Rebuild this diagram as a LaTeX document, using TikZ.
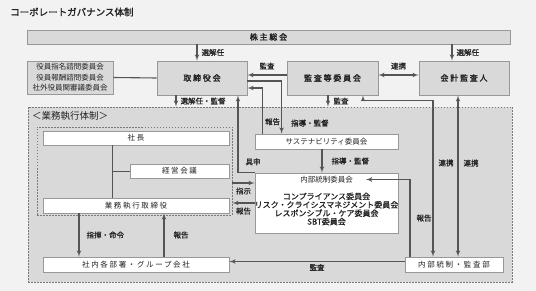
\documentclass[tikz,border=0pt]{standalone}
\usepackage{fontspec}
\usetikzlibrary{arrows}
\newfontfamily\jp[AutoFakeBold=0.7]{Noto Sans CJK JP}
\newfontfamily\jpsp[AutoFakeBold=2,LetterSpace=22]{Noto Sans CJK JP}
\newfontfamily\jphead[AutoFakeBold=1.5]{Noto Sans CJK JP}
\definecolor{paper}{HTML}{F2F2F2}
\definecolor{panel}{HTML}{D9D9D9}
\definecolor{rim}{HTML}{989898}
\definecolor{ink}{HTML}{222222}
\definecolor{linegray}{HTML}{555555}

\begin{document}
\begin{tikzpicture}[x=1pt,y=-1pt,>=latex',
    graybox/.style={draw=rim,fill=panel,line width=0.8pt,inner sep=0pt,text=ink,font=\jpsp\bfseries\fontsize{8}{9}\selectfont},
    whitebox/.style={draw=rim,fill=white,line width=0.8pt,inner sep=0pt,text=ink,font=\jpsp\fontsize{7.5}{9}\selectfont},
    zone/.style={draw=rim!80!black,fill=panel,line width=0.7pt,dash pattern=on 1.5pt off 1.5pt,inner sep=0pt},
    lbl/.style={inner sep=1pt,text=ink,font=\jp\bfseries\fontsize{7.5}{9}\selectfont},
    wire/.style={draw=linegray,line width=1.1pt},
    arr/.style={wire,->},
    dbl/.style={wire,<->}]

    \fill[paper] (0,0) rectangle (536,291);
    \useasboundingbox (0,0) rectangle (536,291);

    \node[lbl,anchor=west,font=\jphead\bfseries\fontsize{9.5}{11}\selectfont] (title) at (9,12) {コーポレートガバナンス体制};

    % executive zone
    \node[zone,minimum width=484pt,minimum height=175pt] (outer) at (270,194.5) {};
    \node[lbl,anchor=west,font=\jp\fontsize{9.5}{11}\selectfont] (zonetitle) at (31,115.5) {＜業務執行体制＞};
    \node[zone,minimum width=195pt,minimum height=88pt] (inner) at (134.5,171) {};

    % top row
    \node[graybox,minimum width=483pt,minimum height=14pt] (kabunushi) at (268.5,37) {株主総会};
    \node[graybox,minimum width=90pt,minimum height=34pt] (torishimari) at (202,78) {取締役会};
    \node[graybox,minimum width=91pt,minimum height=34pt] (kansa) at (332.5,78) {監査等委員会};
    \node[graybox,minimum width=90pt,minimum height=34pt] (kaikei) at (464,78) {会計監査人};
    \node[graybox,font=\jp\fontsize{7.5}{10.5}\selectfont,align=center,minimum width=86pt,minimum height=33pt] (shimon) at (70,77.5) {役員指名諮問委員会\\役員報酬諮問委員会\\社外役員関審議委員会};

    % white boxes
    \node[whitebox,minimum width=186pt,minimum height=14pt] (shacho) at (136,138) {社長};
    \node[whitebox,minimum width=99pt,minimum height=14pt] (keiei) at (179.5,171) {経営会議};
    \node[whitebox,minimum width=186pt,minimum height=15pt] (gyomu) at (136,205.5) {業務執行取締役};
    \node[whitebox,minimum width=186pt,minimum height=15pt] (shanai) at (136,264.5) {社内各部署・グループ会社};
    \node[whitebox,minimum width=98pt,minimum height=15pt] (naikan) at (454,264.5) {内部統制・監査部};
    \node[whitebox,font=\jp\fontsize{7.5}{9}\selectfont,minimum width=143pt,minimum height=15pt] (sustain) at (326.5,141.5) {サステナビリティ委員会};
    \node[whitebox,minimum width=143pt,minimum height=60pt] (naibu) at (326.5,203) {};
    \node[lbl,font=\jp\fontsize{7.5}{9}\selectfont] (naibuhead) at (326.5,179.5) {内部統制委員会};
    \node[lbl,align=center,font=\jp\bfseries\fontsize{8}{8.4}\selectfont] (naibulist) at (326.5,209) {コンプライアンス委員会\\リスク・クライシスマネジメント委員会\\レスポンシブル・ケア委員会\\SBT委員会};

    % connectors
    \draw[wire] (shimon.east) -- (torishimari.west);
    \draw[arr] ([xshift=-5pt]torishimari.north |- kabunushi.south) -- node[lbl,right=3pt] {選解任} ([xshift=-5pt]torishimari.north);
    \draw[arr] ([xshift=-12pt]kaikei.north |- kabunushi.south) -- node[lbl,right=3pt] {選解任} ([xshift=-12pt]kaikei.north);
    \draw[arr] ([yshift=3pt]kansa.west) -- node[lbl,above=4pt] {監査} ([yshift=3pt]torishimari.east);
    \draw[dbl] ([yshift=3pt]kansa.east) -- node[lbl,above=4pt] {連携} ([yshift=3pt]kaikei.west);
    \draw[arr] ([yshift=-3pt]torishimari.east) -| node[lbl,pos=0.9,right=8pt] {指導・監督} ([xshift=27pt]sustain.north west);
    \draw[arr] ([xshift=8pt]sustain.north west) |- node[lbl,pos=0.13,right=1pt] {報告} ([yshift=-10pt]torishimari.east);
    \draw[arr] ([xshift=-26pt]torishimari.south) -- node[lbl,right=3pt] {選解任・監督} ([xshift=-26pt]torishimari.south |- outer.north);
    \draw[arr] (naibu.north west) -| node[lbl,pos=0.57,right=6pt] {具申} ([xshift=36pt]torishimari.south);
    \draw[arr] ([xshift=-4.5pt]kansa.south) -- node[lbl,right=4pt] {監査} ([xshift=-4.5pt]kansa.south |- outer.north);
    \draw[dbl] ([xshift=30.5pt]kansa.south) -- ++(0,5) -| node[lbl,pos=0.7,right=4pt] {連携} ([xshift=-21pt]naikan.north);
    \draw[dbl] ([xshift=-6pt]kaikei.south) -- node[lbl,pos=0.42,right=4pt] {連携} ([xshift=-6pt]kaikei.south |- naikan.north);
    \draw[arr] ([xshift=-44pt]naikan.north) |- node[lbl,pos=0.25,right=5pt] {報告} ([xshift=12pt]naibuhead.east);
    \draw[arr] ([xshift=-4.5pt]sustain.south) -- node[lbl,right=8pt] {指導・監督} ([xshift=-4.5pt]naibu.north);
    \draw[arr] ([yshift=20pt]inner.east |- naibu.west) -- node[lbl,below=3pt] {指示} ([yshift=20pt]naibu.west);
    \draw[arr] (naibu.west) -- node[lbl,below=3pt] {報告} (inner.east |- naibu.west);
    \draw[arr] ([yshift=3pt]naikan.west) -- node[lbl,below=1pt] {監査} ([yshift=3pt]shanai.east);
    \draw[arr] ([xshift=-57pt]gyomu.south) -- node[lbl,right=6pt] {指揮・命令} ([xshift=-57pt]shanai.north);
    \draw[arr] ([xshift=28pt]shanai.north) -- node[lbl,right=8pt] {報告} ([xshift=28pt]gyomu.south);
    \draw[wire,line width=0.9pt] ([xshift=-24pt]shacho.south) -- ([xshift=-24pt]gyomu.north);
    \draw[wire,line width=0.9pt] (keiei.west) -- ([xshift=-24pt]shacho.south |- keiei.west);
    %\node[lbl] at (326.5,240) {};
\end{tikzpicture}
\end{document}
